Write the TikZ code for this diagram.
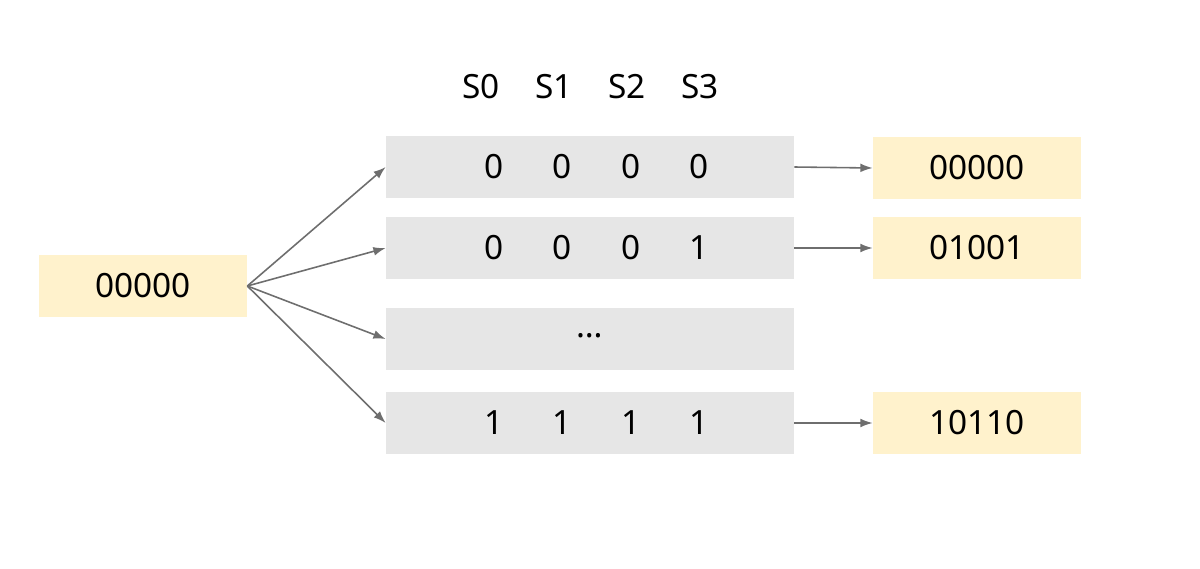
\documentclass[tikz,border=0pt]{standalone}
\usepackage{fontspec}
\setmainfont{Noto Sans}
\usetikzlibrary{arrows.meta}
\definecolor{ylw}{HTML}{FFF2CC}
\definecolor{gry}{HTML}{E6E6E6}
\definecolor{arr}{HTML}{6E6E6E}
\begin{document}
\begin{tikzpicture}[x=0.02cm,y=-0.02cm,
  txt/.style={font=\fontsize{19}{22}\selectfont,inner sep=0pt},
  ybox/.style={fill=ylw,draw=none,minimum width=4.16cm,minimum height=1.24cm,txt},
  gbox/.style={fill=gry,draw=none,minimum width=8.16cm,minimum height=1.24cm,txt},
  con/.style={draw=arr,line width=0.9pt,-{Latex[length=7pt,width=5pt]}}]
\useasboundingbox (0,0) rectangle (1200,568);
\node[ybox] (in) at (143,286) {00000};
\node[gbox] (g1) at (590,167) {};
\node[gbox] (g2) at (590,248) {};
\node[gbox] (g3) at (590,339) {\raisebox{4pt}{\dots}};
\node[gbox] (g4) at (590,423) {};
\node[ybox] (o1) at (977,168) {00000};
\node[ybox] (o2) at (977,248) {01001};
\node[ybox] (o4) at (977,423) {10110};
\foreach \s/\x in {0/481,1/554,2/627,3/700} \node[txt] (h\s) at (\x,87) {S\s};
\foreach \a/\b/\c/\d [count=\i] in {0/0/0/0} {}
\foreach \v [count=\j] in {0,0,0,0} \node[txt] (r1c\j) at ({494+68.3*(\j-1)},167) {\v};
\foreach \v [count=\j] in {0,0,0,1} \node[txt] (r2c\j) at ({494+68.3*(\j-1)},248) {\v};
\foreach \v [count=\j] in {1,1,1,1} \node[txt] (r4c\j) at ({494+68.3*(\j-1)},423) {\v};
\coordinate (src) at (in.east);
\foreach \g in {g1,g2,g3,g4} \draw[con] (src) -- (\g.west);
\draw[con] (g1.east) -- (o1.west);
\draw[con] (g2.east) -- (o2.west);
\draw[con] (g4.east) -- (o4.west);
\end{tikzpicture}
\end{document}
